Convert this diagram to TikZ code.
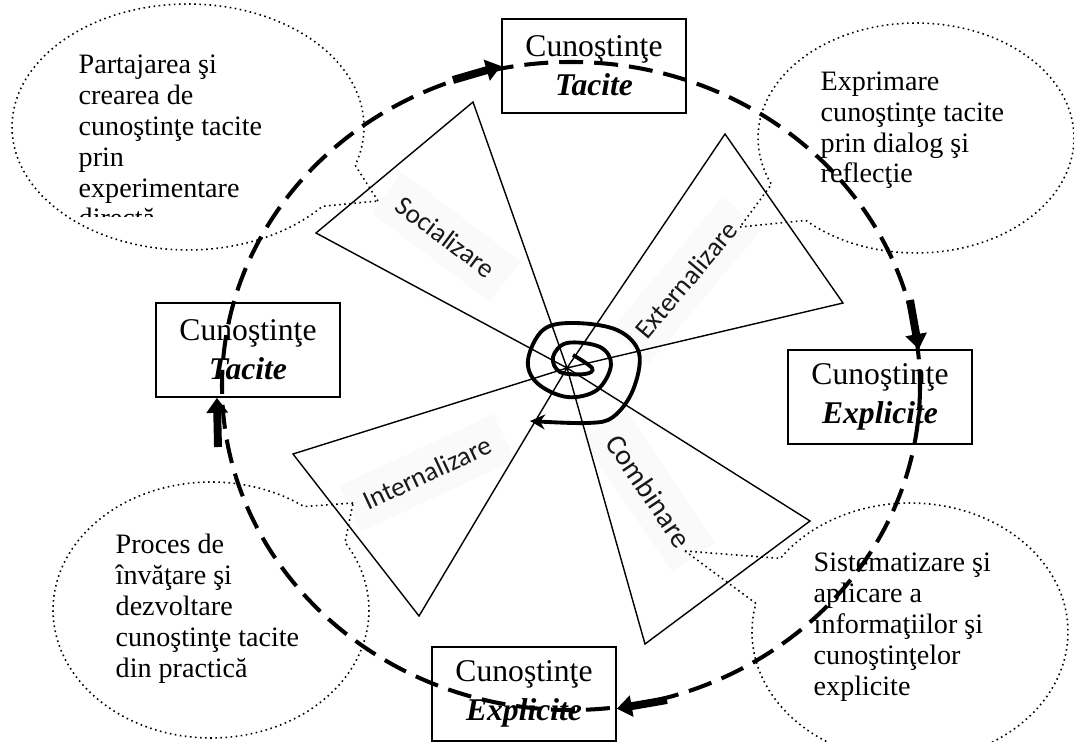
\documentclass[tikz,border=0pt]{standalone}
\usepackage{fontspec}
\setmainfont{Liberation Serif}
\newfontfamily\modefont{Carlito}
\usetikzlibrary{arrows.meta,shapes.callouts}

\begin{document}
\begin{tikzpicture}[x=0.02cm, y=-0.02cm, line width=0.8pt,
  bubble/.style={ellipse callout, draw, dotted, line width=0.9pt, callout pointer arc=22},
  kbox/.style={draw, line width=1pt, minimum width=3.68cm, minimum height=1.88cm, align=center, inner sep=0pt, font=\fontsize{18}{22}\selectfont},
  note/.style={anchor=base west, align=left, inner sep=0pt, font=\fontsize{16}{17.6}\selectfont},
  mode/.style={font=\modefont\fontsize{15.5}{17}\selectfont, text=black!90, fill=black!2, inner sep=9pt},
  ring/.style={line width=2.3pt, dash pattern=on 0.48cm off 0.22cm},
  bigarrow/.style={line width=4.5pt, -{Triangle[length=0.3cm, width=0.42cm]}},
  spiral/.style={line width=2.2pt, -{Stealth[length=0.3cm, width=0.3cm]}}]

\useasboundingbox (0,0) rectangle (1074,742);

\coordinate (c) at (567,368);

% the four modes
\node[mode, rotate=-37] (soc) at (446,237) {Socializare};
\node[mode, rotate=50] (ext) at (686,280) {Externalizare};
\node[mode, rotate=-56, font=\modefont\fontsize{16.5}{18}\selectfont] (comb) at (649,491) {Combinare};
\node[mode, rotate=25] (inte) at (427,473) {Internalizare};

\draw (c) -- (473,102) -- (316,233) -- cycle;
\draw (c) -- (725,134) -- (843,303) -- cycle;
\draw (c) -- (810,521) -- (645,644) -- cycle;
\draw (c) -- (293,454) -- (419,616) -- cycle;

\draw[spiral] plot[smooth, tension=0.6] coordinates {(573,355) (592,368) (585,374) (560,372) (553,357) (567,343) (600,347) (611,365) (597,390) (567,397) (537,383) (528,360) (543,330) (573,323) (617,330) (639,353) (633,390) (613,417) (587,423) (530,421)};

% bubbles
\node[bubble, minimum width=7.04cm, minimum height=4.92cm, callout absolute pointer={(378,201)}] (sharebub) at (188,127) {};
\node[bubble, minimum width=6.32cm, minimum height=4.6cm, callout absolute pointer={(740,227)}] (exprbub) at (916,138) {};
\node[bubble, minimum width=6.32cm, minimum height=5.12cm, callout absolute pointer={(353,503)}] (learnbub) at (211,610) {};
\node[bubble, minimum width=6.32cm, minimum height=5.16cm, callout absolute pointer={(685,551)}] (sysbub) at (910,632) {};

% base west = baseline of the last line
\begin{scope}
\clip (0,0) rectangle (400,217);
\node[note] (sharetxt) at (78,228) {Partajarea şi\\crearea de\\cunoştinţe tacite\\prin\\experimentare\\directă};
\end{scope}
\node[note] (exprtxt) at (820,183) {Exprimare\\cunoştinţe tacite\\prin dialog şi\\reflecţie};
\node[note] (learntxt) at (115,677) {Proces de\\învăţare şi\\dezvoltare\\cunoştinţe tacite\\din practică};
\node[note] (systxt) at (813,695) {Sistematizare şi\\aplicare a\\informaţiilor şi\\cunoştinţelor\\explicite};

\draw[ring] (571,386) ellipse [x radius=349, y radius=324];

% knowledge boxes
\node[kbox] (tacit1) at (594,66) {Cunoştinţe\\\textbf{\textit{Tacite}}};
\node[kbox] (expl1) at (880,397) {Cunoştinţe\\\textbf{\textit{Explicite}}};
\node[kbox] (expl2) at (524,694) {Cunoştinţe\\\textbf{\textit{Explicite}}};
\node[kbox] (tacit2) at (248,350) {Cunoştinţe\\\textbf{\textit{Tacite}}};

\coordinate (a1) at (453,80);
\coordinate (a2) at (910,300);
\coordinate (a3) at (667,700);
\coordinate (a4) at (218,447);
\draw[bigarrow] (a1) -- (tacit1.west);
\draw[bigarrow] (a2) -- (expl1.51);
\draw[bigarrow] (a3) -- (expl2.-9);
\draw[bigarrow] (a4) -- (tacit2.237);

\end{tikzpicture}
\end{document}
